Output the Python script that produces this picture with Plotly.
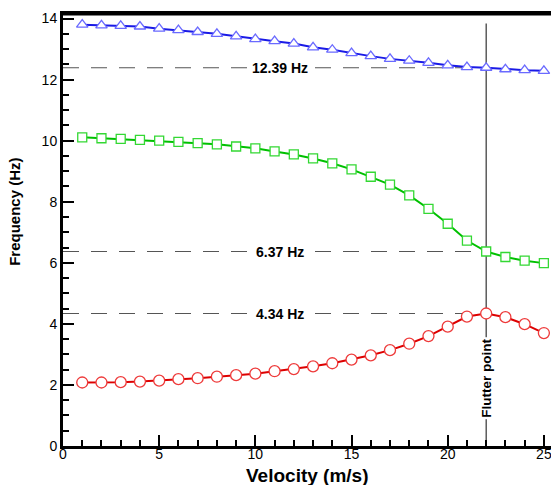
import plotly.graph_objects as go

velocity = list(range(1, 26))
mode3 = [13.80, 13.78, 13.76, 13.74, 13.67, 13.62, 13.56, 13.50, 13.42, 13.33,
         13.26, 13.18, 13.06, 12.98, 12.87, 12.77, 12.68, 12.62, 12.55, 12.47,
         12.41, 12.39, 12.34, 12.31, 12.29]
mode2 = [10.11, 10.08, 10.06, 10.03, 10.00, 9.96, 9.92, 9.88, 9.81, 9.75,
         9.65, 9.55, 9.42, 9.26, 9.06, 8.82, 8.56, 8.21, 7.77, 7.28,
         6.73, 6.37, 6.19, 6.07, 5.99]
mode1 = [2.08, 2.08, 2.09, 2.11, 2.14, 2.19, 2.22, 2.27, 2.32, 2.37,
         2.45, 2.52, 2.61, 2.71, 2.83, 2.97, 3.14, 3.35, 3.60, 3.91,
         4.24, 4.34, 4.22, 3.99, 3.70]
flutter_v = 22
ref_freqs = [12.39, 6.37, 4.34]
ref_labels = ["12.39 Hz", "6.37 Hz", "4.34 Hz"]
flutter_label = "Flutter point"

FONT = "Liberation Sans, Arial, sans-serif"
Y_MAX = 14.15
X_MAX = 25.37

fig = go.Figure()

# dashed reference lines
for f in ref_freqs:
    fig.add_trace(go.Scatter(x=[0, flutter_v], y=[f, f], mode="lines",
                             line=dict(color="#555555", width=1.2, dash="16px,12px"),
                             hoverinfo="skip", showlegend=False))
# flutter vertical line
fig.add_trace(go.Scatter(x=[flutter_v, flutter_v], y=[0, 13.84], mode="lines",
                         line=dict(color="#333333", width=1.2),
                         hoverinfo="skip", showlegend=False))

series = [
    (mode3, "#1a1ae6", "#6a6aff", "triangle-up", 10),
    (mode2, "#00c000", "#33d833", "square", 9),
    (mode1, "#dd0000", "#ee3a3a", "circle", 11),
]
for ys, lc, mc, sym, sz in series:
    fig.add_trace(go.Scatter(x=velocity, y=ys, mode="lines+markers",
                             line=dict(color=lc, width=2),
                             marker=dict(symbol=sym, size=sz, color="white",
                                         line=dict(color=mc, width=1.3)),
                             showlegend=False))

for f, lab in zip(ref_freqs, ref_labels):
    fig.add_annotation(x=11.3, y=f, text="<b>" + lab + "</b>", showarrow=False,
                       font=dict(family=FONT, size=14, color="black"),
                       bgcolor="white", borderpad=1)

fig.add_annotation(x=flutter_v, y=2.21, text="<b>" + flutter_label + "</b>", showarrow=False,
                   textangle=-90, font=dict(family=FONT, size=13.5, color="black"),
                   bgcolor="white", borderpad=1)

fig.add_annotation(xref="paper", yref="paper", x=0.5, y=0, yshift=-29, yanchor="middle",
                   text="<b>Velocity (m/s)</b>", showarrow=False,
                   font=dict(family=FONT, size=19, color="black"))
fig.add_annotation(xref="paper", yref="paper", x=0, y=0.542, xshift=-48, xanchor="center",
                   yanchor="middle", textangle=-90,
                   text="<b>Frequency (Hz)</b>", showarrow=False,
                   font=dict(family=FONT, size=15, color="black"))

# top frame line
fig.add_shape(type="line", xref="x", yref="y", x0=0, x1=X_MAX, y0=Y_MAX, y1=Y_MAX,
              line=dict(color="black", width=3), layer="above")

fig.update_layout(
    width=551, height=485,
    margin=dict(l=63, r=0, t=14, b=39, autoexpand=False),
    plot_bgcolor="white", paper_bgcolor="white",
    font=dict(family=FONT, size=14, color="black"),
)
fig.update_xaxes(range=[0, X_MAX], tickvals=[0, 5, 10, 15, 20, 25], automargin=False,
                 ticks="inside", ticklen=11, tickwidth=2, tickcolor="black",
                 minor=dict(dtick=1, tick0=0, ticks="inside", ticklen=6, tickwidth=1.5, tickcolor="black"),
                 showline=True, linecolor="black", linewidth=3, mirror=True,
                 showgrid=False, zeroline=False, ticklabeloverflow="allow",
                 ticklabelstandoff=-7,
                 tickfont=dict(family=FONT, size=14))
fig.update_yaxes(range=[0, Y_MAX], tickvals=[0, 2, 4, 6, 8, 10, 12, 14], automargin=False,
                 ticks="inside", ticklen=11, tickwidth=2, tickcolor="black",
                 minor=dict(dtick=0.5, tick0=0, ticks="inside", ticklen=6, tickwidth=1.5, tickcolor="black"),
                 showline=True, linecolor="black", linewidth=3, mirror=False,
                 showgrid=False, zeroline=False,
                 tickfont=dict(family=FONT, size=14))

fig.write_html("out.html", config={"displayModeBar": False},
               post_script="document.body.style.margin='0px';document.body.style.overflow='hidden';")
